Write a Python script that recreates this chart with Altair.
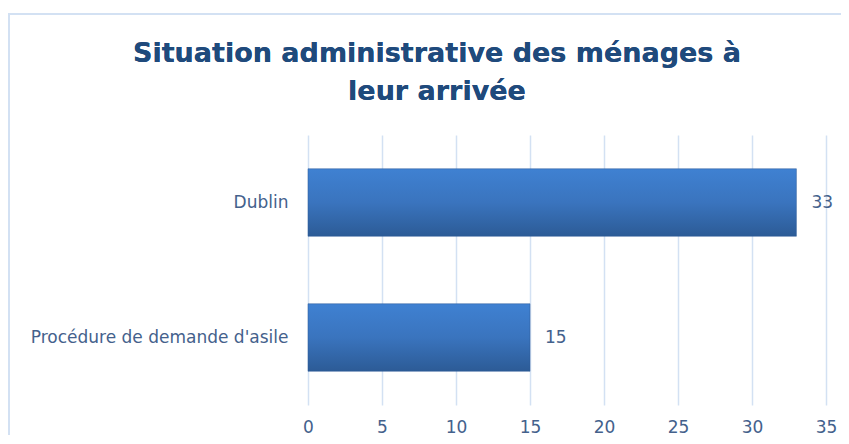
import altair as alt
import pandas as pd

categories = ["Dublin", "Procédure de demande d'asile"]
values = [33, 15]
x_ticks = [0, 5, 10, 15, 20, 25, 30, 35]
title_lines = ["Situation administrative des ménages à", "leur arrivée"]

df = pd.DataFrame({"cat": categories, "val": values})

label_color = "#44618c"
label_font = "DejaVu Sans"
title_font = "DejaVu Sans"
grad = alt.Gradient(
    gradient="linear",
    stops=[alt.GradientStop(color="#3f81d2", offset=0),
           alt.GradientStop(color="#3a74be", offset=0.5),
           alt.GradientStop(color="#2c5b96", offset=1)],
    x1=0, x2=0, y1=0, y2=1,
)

base = alt.Chart(df)

border = base.mark_rect(fill=None, stroke="#d3e1f3", strokeWidth=2).encode(
    x=alt.value(-299), x2=alt.value(560), y=alt.value(-121), y2=alt.value(330)
)

title1 = base.mark_text(text=title_lines[0], font=title_font, fontSize=27, fontWeight="bold",
                        color="#1f4a7c", align="center", baseline="alphabetic").encode(
    x=alt.value(129), y=alt.value(-73)
)
title2 = base.mark_text(text=title_lines[1], font=title_font, fontSize=27, fontWeight="bold",
                        color="#1f4a7c", align="center", baseline="alphabetic").encode(
    x=alt.value(129), y=alt.value(-35)
)

bars = base.mark_bar(color=grad, stroke="#2c5b96", strokeWidth=0.5).encode(
    y=alt.Y("cat:N", sort=categories,
            scale=alt.Scale(paddingInner=0.5, paddingOuter=0.25),
            axis=alt.Axis(title=None, domain=False, ticks=False, labelPadding=20,
                          labelFont=label_font, labelFontSize=17, labelColor=label_color,
                          labelLimit=300)),
    x=alt.X("val:Q", scale=alt.Scale(domain=[0, 35], nice=False),
            axis=alt.Axis(title=None, values=x_ticks, domain=False, ticks=False,
                          labelFlush=False, labelPadding=14, labelFont=label_font,
                          labelFontSize=17, labelColor=label_color,
                          gridColor="#d3e1f3", gridWidth=1.5)),
)

texts = base.mark_text(align="left", dx=15, font=label_font, fontSize=17, color=label_color).encode(
    y=alt.Y("cat:N", sort=categories),
    x="val:Q",
    text="val:Q",
)

chart = alt.layer(border, title1, title2, bars, texts).properties(
    width=518,
    height=270,
    autosize=alt.AutoSizeParams(type="none"),
    padding={"left": 300, "top": 127, "right": 15, "bottom": 30},
).configure_view(stroke=None)

chart.save("out.html", embed_options={"renderer": "svg", "actions": False})
